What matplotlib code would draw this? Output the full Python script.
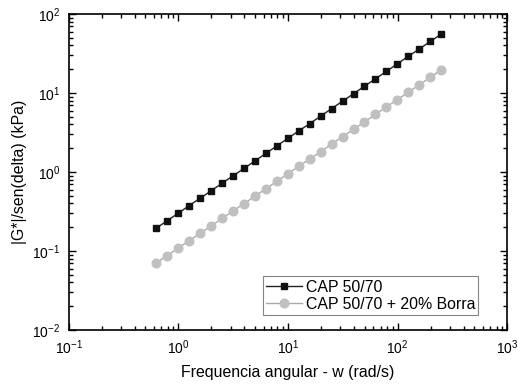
import matplotlib
matplotlib.use('Agg')
import matplotlib.pyplot as plt
from matplotlib.ticker import LogLocator, NullFormatter

plt.rcParams['font.family'] = ['Liberation Sans', 'DejaVu Sans']
plt.rcParams['mathtext.fontset'] = 'custom'
plt.rcParams['mathtext.rm'] = 'Liberation Sans'

# angular frequency (rad/s)
freq = [0.628, 0.791, 0.996, 1.25, 1.58, 1.99, 2.50, 3.15, 3.97, 4.99,
        6.28, 7.91, 9.96, 12.5, 15.8, 19.9, 25.0, 31.5, 39.7, 49.9,
        62.8, 79.1, 99.6, 125, 158, 199, 251]

# |G*|/sen(delta) (kPa)
cap_50_70 = [0.195, 0.242, 0.301, 0.375, 0.466, 0.579, 0.720, 0.895, 1.11, 1.38,
             1.72, 2.14, 2.66, 3.30, 4.10, 5.10, 6.34, 7.88, 9.8, 12.2,
             15.1, 18.8, 23.4, 29.1, 36.1, 44.9, 55.8]
cap_borra = [0.0705, 0.0875, 0.109, 0.135, 0.168, 0.208, 0.258, 0.321, 0.398, 0.495,
             0.614, 0.763, 0.947, 1.18, 1.46, 1.81, 2.25, 2.80, 3.47, 4.31,
             5.35, 6.65, 8.25, 10.2, 12.7, 15.8, 19.6]

fig = plt.figure(figsize=(5.18, 3.84), dpi=100)
ax = fig.add_axes([0.133, 0.1406, 0.846, 0.823])

ax.plot(freq, cap_50_70, color='#222222', lw=1.0, marker='s', ms=5,
        mfc='#111111', mec='#111111', label='CAP 50/70')
ax.plot(freq, cap_borra, color='#aaaaaa', lw=1.0, marker='o', ms=6.2,
        mfc='#c0c0c0', mec='#c0c0c0', label='CAP 50/70 + 20% Borra')

ax.set_xscale('log')
ax.set_yscale('log')
ax.set_xlim(0.1, 1000)
ax.set_ylim(0.01, 100)

for axis in (ax.xaxis, ax.yaxis):
    axis.set_major_locator(LogLocator(base=10, numticks=10))
    axis.set_minor_locator(LogLocator(base=10, subs=range(2, 10), numticks=10))
    axis.set_minor_formatter(NullFormatter())

ax.tick_params(which='both', direction='in', top=True, right=True, width=1.0)
ax.tick_params(which='major', length=5, labelsize=10, pad=6)
ax.tick_params(which='minor', length=3)
for s in ax.spines.values():
    s.set_linewidth(1.2)

ax.set_xlabel('Frequencia angular - w (rad/s)', fontsize=11.4, labelpad=6)
ax.set_ylabel('|G*|/sen(delta) (kPa)', fontsize=11.4, labelpad=4)

leg = ax.legend(loc='lower right', bbox_to_anchor=(0.934, 0.047), fontsize=11.4,
                frameon=True, fancybox=False, edgecolor='#666666',
                borderpad=0.2, handlelength=2.3, labelspacing=0.15, handletextpad=0.2,
                borderaxespad=0)
leg.get_frame().set_linewidth(0.8)

fig.savefig('out.png', dpi=100)
